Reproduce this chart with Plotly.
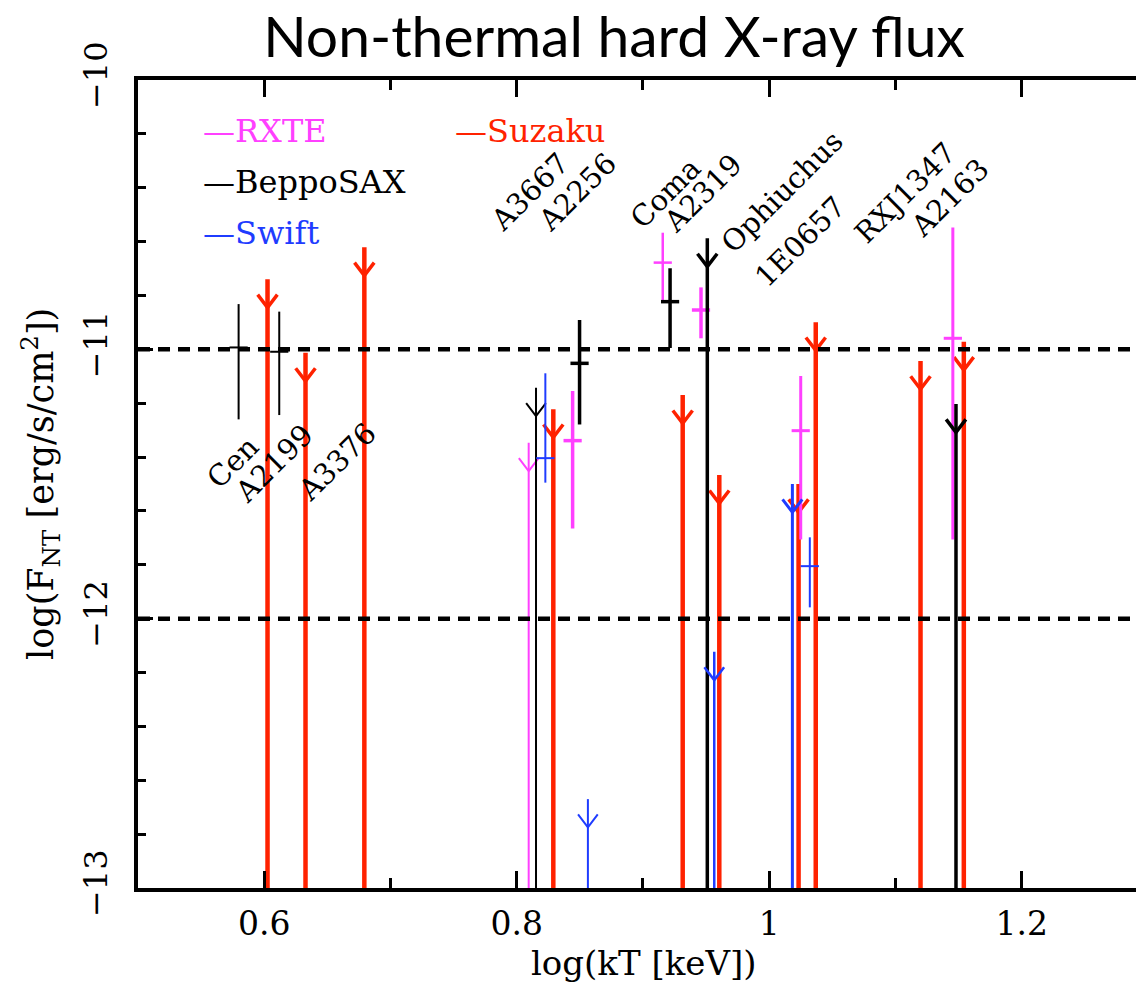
import plotly.graph_objects as go

# ---------------- data ----------------
# log(kT) positions, log(F_NT) values.  Detections: value with upper/lower bounds.
# Upper limits: value of the limit.
rxte_det_x  = [0.8443, 0.9157, 0.9460, 1.0250, 1.1455]
rxte_det_y  = [-11.339, -10.678, -10.854, -11.302, -10.959]
rxte_det_hi = [-11.155, -10.567, -10.770, -11.099, -10.548]
rxte_det_lo = [-11.665, -10.817, -10.959, -11.706, -11.706]
rxte_ul_x   = [0.8095]
rxte_ul_y   = [-11.347]

sax_det_x  = [0.5797, 0.6119, 0.8498, 0.9215]
sax_det_y  = [-10.993, -11.009, -11.052, -10.823]
sax_det_hi = [-10.832, -10.860, -10.891, -10.699]
sax_det_lo = [-11.260, -11.244, -11.279, -10.995]
sax_ul_x   = [0.8153, 0.9510, 1.1480]
sax_ul_y   = [-11.143, -10.588, -11.203]

swift_det_x  = [0.8227, 1.0322]
swift_det_y  = [-11.404, -11.805]
swift_det_hi = [-11.089, -11.698]
swift_det_lo = [-11.495, -11.958]
swift_ul_x   = [0.8564, 0.9565, 1.0184]
swift_ul_y   = [-12.670, -12.123, -11.500]

suzaku_ul_x = [0.6026, 0.6327, 0.6793, 0.8290, 0.9315, 0.9605, 1.0233, 1.0369, 1.1199, 1.1542]
suzaku_ul_y = [-10.740, -11.013, -10.621, -11.222, -11.170, -11.467, -11.500, -10.899, -11.043, -10.972]

instruments = ['RXTE', 'BeppoSAX', 'Swift', 'Suzaku']
reference_levels = [-11, -12]

cluster_names = ['Cen', 'A2199', 'A3376', 'A3667', 'A2256', 'Coma', 'A2319',
                 'Ophiuchus', '1E0657', 'RXJ1347', 'A2163']

# ---------------- styles / layout positions ----------------
PINK, BLACK, BLUE, RED = '#ff40ff', '#000000', '#1f3cff', '#ff2200'
rxte_det_lw, rxte_ul_lw = [3.5, 2.5, 3.5, 3.0, 3.0], [2.0]
sax_det_lw, sax_ul_lw = [2.0, 2.0, 3.5, 3.5], [2.0, 3.5, 3.5]
swift_det_lw, swift_ul_lw = [2.0, 2.0], [2.0, 2.5, 3.0]
suzaku_lw = 4.5

label_x = [0.5755, 0.6081, 0.6575, 0.8103, 0.8478, 0.9178, 0.9478, 1.0099, 1.0245, 1.1075, 1.1430]
label_y = [-11.420, -11.422, -11.417, -10.416, -10.414, -10.418, -10.420, -10.414, -10.603, -10.418, -10.438]

legend_x = [0.5502, 0.5502, 0.5502, 0.7494]
legend_y = [-10.189, -10.379, -10.568, -10.189]
legend_col = [PINK, BLACK, BLUE, RED]

Y_FLOOR = -13.5
ARROW_GAP = 0.105
ARROW_DY = 0.048
ARROW_DX = 0.0078
TICK_W = 13
SERIF = 'DejaVu Serif'

fig = go.Figure()


def add_det(x, y, hi, lo, color, lw):
    fig.add_trace(go.Scatter(
        x=[x], y=[y], mode='markers',
        marker=dict(symbol='line-ew', size=TICK_W, color=color,
                    line=dict(color=color, width=lw)),
        error_y=dict(type='data', symmetric=False, array=[hi - y],
                     arrayminus=[y - lo], color=color, thickness=lw, width=0),
        showlegend=False, hoverinfo='skip'))


def add_ul(x, y, color, lw):
    fig.add_trace(go.Scatter(
        x=[x], y=[y], mode='markers',
        marker=dict(size=1, color='rgba(0,0,0,0)'),
        error_y=dict(type='data', symmetric=False, array=[0],
                     arrayminus=[y - Y_FLOOR], color=color, thickness=lw, width=0),
        showlegend=False, hoverinfo='skip'))
    apex = y - ARROW_GAP
    fig.add_trace(go.Scatter(
        x=[x - ARROW_DX, x, x + ARROW_DX],
        y=[apex + ARROW_DY, apex, apex + ARROW_DY],
        mode='lines', line=dict(color=color, width=min(lw, 3.5)),
        showlegend=False, hoverinfo='skip'))


for i in range(len(suzaku_ul_x)):
    add_ul(suzaku_ul_x[i], suzaku_ul_y[i], RED, suzaku_lw)
for i in range(len(rxte_ul_x)):
    add_ul(rxte_ul_x[i], rxte_ul_y[i], PINK, rxte_ul_lw[i])
for i in range(len(rxte_det_x)):
    add_det(rxte_det_x[i], rxte_det_y[i], rxte_det_hi[i], rxte_det_lo[i], PINK, rxte_det_lw[i])
for i in range(len(sax_ul_x)):
    add_ul(sax_ul_x[i], sax_ul_y[i], BLACK, sax_ul_lw[i])
for i in range(len(sax_det_x)):
    add_det(sax_det_x[i], sax_det_y[i], sax_det_hi[i], sax_det_lo[i], BLACK, sax_det_lw[i])
for i in range(len(swift_ul_x)):
    add_ul(swift_ul_x[i], swift_ul_y[i], BLUE, swift_ul_lw[i])
for i in range(len(swift_det_x)):
    add_det(swift_det_x[i], swift_det_y[i], swift_det_hi[i], swift_det_lo[i], BLUE, swift_det_lw[i])

# dashed reference levels
for lv in reference_levels:
    fig.add_shape(type='line', xref='paper', x0=0, x1=1, yref='y', y0=lv, y1=lv,
                  line=dict(color='black', width=4.5, dash='12px,8px'), layer='above')

annotations = []
for name, lx, ly in zip(cluster_names, label_x, label_y):
    annotations.append(dict(x=lx, y=ly, xref='x', yref='y', text=name, showarrow=False,
                            textangle=-45, xanchor='center', yanchor='middle',
                            font=dict(family=SERIF, size=29, color='black')))
for name, lx, ly, c in zip(instruments, legend_x, legend_y, legend_col):
    annotations.append(dict(x=lx, y=ly, xref='x', yref='y', text='\u2014' + name,
                            showarrow=False, xanchor='left', yanchor='middle',
                            font=dict(family=SERIF, size=32, color=c)))
# axis titles
annotations.append(dict(x=0.9005, xref='x', y=0, yref='paper', yshift=-75,
                        text='log(kT [keV])', showarrow=False,
                        xanchor='center', yanchor='middle',
                        font=dict(family=SERIF, size=34, color='black')))
annotations.append(dict(x=0, xref='paper', xshift=-98, y=0.5, yref='paper',
                        text='log(F<sub>NT</sub> [erg/s/cm<sup>2</sup>])', showarrow=False,
                        textangle=-90, xanchor='center', yanchor='middle',
                        font=dict(family=SERIF, size=35, color='black')))

fig.update_layout(
    width=1136, height=987,
    margin=dict(l=138, r=0, t=80, b=99),
    paper_bgcolor='white', plot_bgcolor='white',
    showlegend=False,
    title=dict(text='Non-thermal hard X-ray flux', xref='paper', x=0.477,
               xanchor='center', yref='container', y=1 - 37 / 987, yanchor='middle',
               font=dict(family='Lato', size=57, color='black')),
    annotations=annotations,
)

fig.update_xaxes(range=[0.5, 1.2906], showgrid=False, zeroline=False,
                 showline=True, linewidth=3.5, linecolor='black', mirror='ticks',
                 ticks='inside', ticklen=17, tickwidth=2.5, tickcolor='black',
                 dtick=0.2, tick0=0.6,
                 minor=dict(ticks='inside', dtick=0.1, ticklen=10, tickwidth=2.5,
                            tickcolor='black', showgrid=False),
                 tickfont=dict(family=SERIF, size=33, color='black'),
                 ticklabelstandoff=4)
fig.update_yaxes(range=[-13, -10], showgrid=False, zeroline=False,
                 showline=True, linewidth=3.5, linecolor='black', mirror=False,
                 ticks='inside', ticklen=15, tickwidth=2.5, tickcolor='black',
                 dtick=1, tick0=-13,
                 minor=dict(ticks='inside', dtick=0.2, ticklen=8, tickwidth=2.5,
                            tickcolor='black', showgrid=False),
                 tickangle=-90,
                 tickfont=dict(family=SERIF, size=32, color='black'),
                 ticklabelstandoff=14)

fig.write_html('out.html', config={'displayModeBar': False},
               post_script="document.body.style.margin='0';document.body.style.overflow='hidden';")
